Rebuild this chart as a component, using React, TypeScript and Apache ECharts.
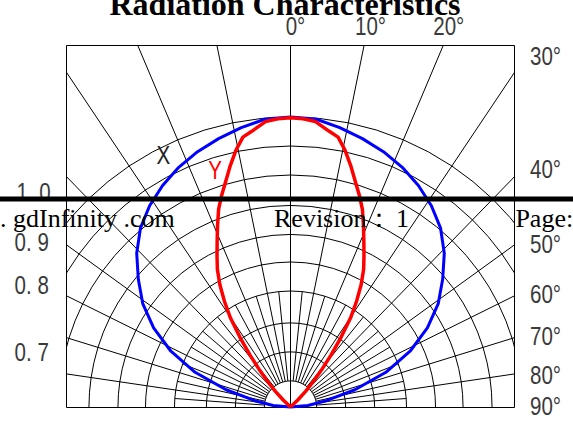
import React, { useEffect, useRef } from 'react';
import * as echarts from 'echarts';

// ---------- data ----------
const titleText = 'Radiation Characteristics';
const angleLabels = ['0°', '10°', '20°', '30°', '40°', '50°', '60°', '70°', '80°', '90°'];
const intensityLabels = ['1. 0', '0. 9', '0. 8', '0. 7'];
const seriesNames = ['X', 'Y'];
const footerTexts = ['. gdInfinity .com', 'Revision：', '1', 'Page:'];

// geometric direction (deg from vertical) of each labelled spoke of the drawing
const majorSpokes = [0, 11.5, 22.9, 33.8, 44.2, 54.1, 63.6, 72.8, 81.6];
const minorSpokes = [5.8, 17.2, 28.4, 39.0, 49.2, 58.9, 68.2, 77.2, 85.8];
// relative radius of each grid ring
const ringRadii = [0.09, 0.19, 0.29, 0.4, 0.5, 0.595, 0.695, 0.8, 0.9, 1.0];

// X curve (blue): angle (deg) and relative intensity
const xAngles = [-90, -85, -80, -75, -70, -65, -60, -55, -50, -45, -40, -35, -30, -25, -20, -15, -10, -5, 0,
  5, 10, 15, 20, 25, 30, 35, 40, 45, 50, 55, 60, 65, 70, 75, 80, 85, 90];
const xValues = [0, 0.06, 0.125, 0.23, 0.35, 0.455, 0.545, 0.622, 0.685, 0.75, 0.805, 0.847, 0.882, 0.912, 0.937, 0.958, 0.978, 0.997, 1.0,
  0.997, 0.978, 0.958, 0.937, 0.912, 0.882, 0.847, 0.805, 0.75, 0.685, 0.622, 0.545, 0.455, 0.35, 0.23, 0.125, 0.06, 0];

// Y curve (red)
const yAngles = [-48, -46, -44, -42, -40, -38, -36, -34, -32, -30, -28, -26, -24, -22, -20, -18, -16, -14, -12, -10, -8, -5, -2.5, 0,
  2.5, 5, 8, 10, 12, 14, 16, 18, 20, 22, 24, 26, 28, 30, 32, 34, 36, 38, 40, 42, 44, 46, 48];
const yValues = [0, 0.035, 0.075, 0.115, 0.165, 0.225, 0.295, 0.37, 0.43, 0.487, 0.537, 0.578, 0.622, 0.672, 0.725, 0.768, 0.81, 0.858, 0.905, 0.945, 0.96, 0.988, 0.995, 0.997,
  0.995, 0.988, 0.96, 0.945, 0.905, 0.858, 0.81, 0.768, 0.725, 0.672, 0.622, 0.578, 0.537, 0.487, 0.43, 0.37, 0.295, 0.225, 0.165, 0.115, 0.075, 0.035, 0];

// ---------- layout ----------
const W = 573;
const H = 424;
const CX = 290.5; // pixel of the diagram origin
const CY = 407;
const S = 290; // pixels per unit of relative intensity
const GL = 66.5;
const GT = 45.5;
const GW = 448;
const GH = 362;

const toXY = (deg: number, r: number): number[] => {
  const a = (deg * Math.PI) / 180;
  return [r * Math.sin(a), r * Math.cos(a)];
};
const BREAK = [NaN, NaN];

function buildSpokes(list: number[], r0: (a: number) => number, r1: number) {
  const out: number[][] = [];
  list.forEach((a) => {
    const sides = a === 0 ? [0] : [-a, a];
    sides.forEach((s) => {
      out.push(toXY(s, r0(a)), toXY(s, r1), BREAK);
    });
  });
  return out;
}

function buildRings() {
  const set = new Set<number>();
  [...majorSpokes, ...minorSpokes, 90].forEach((a) => {
    set.add(a);
    set.add(-a);
  });
  const angles = Array.from(set).sort((p, q) => p - q);
  const out: number[][] = [];
  ringRadii.forEach((r) => {
    angles.forEach((a) => out.push(toXY(a, r)));
    out.push(BREAK);
  });
  return out;
}

const tickFont = '26px "Liberation Sans", Arial, sans-serif';
const serifFont = '"Liberation Serif", "Times New Roman", serif';

const angleLabelPos = [
  [285.7, 26], [355, 26], [433.3, 26], [530, 56], [530, 169.5],
  [530, 244], [530, 294.5], [530, 336], [530, 375.5], [530, 406],
];
const intensityLabelPos = [[16.4, 192.5], [14.6, 242.5], [14.6, 285], [14.6, 352]];
const footerPos = [[0, 218], [274, 218], [396, 218], [515.4, 218]];

export default function App() {
  const ref = useRef<HTMLDivElement>(null);

  useEffect(() => {
    if (!ref.current) return;
    const chart = echarts.init(ref.current, undefined, { renderer: 'svg' });

    const xData = xAngles.map((a, i) => toXY(a, xValues[i]));
    const yData = yAngles.map((a, i) => toXY(a, yValues[i]));

    const gridLine = { color: '#000', width: 1 };
    const base = {
      type: 'line' as const,
      showSymbol: false,
      symbol: 'none',
      clip: true,
      silent: true,
      connectNulls: false,
      smooth: false,
    };

    const tickText = (t: string, x: number, y: number, fill: string) => ({
      type: 'text', x, y, z: 100, scaleX: 0.79,
      style: { text: t, font: tickFont, fill, align: 'left', verticalAlign: 'middle', lineHeight: 19 },
    });

    const graphics: any[] = [];
    angleLabels.forEach((t, i) => graphics.push(tickText(t, angleLabelPos[i][0], angleLabelPos[i][1], '#3a3a3a')));
    intensityLabels.forEach((t, i) => graphics.push(tickText(t, intensityLabelPos[i][0], intensityLabelPos[i][1], '#3a3a3a')));
    graphics.push(tickText(seriesNames[0], 156.4, 155, '#222'));
    graphics.push(tickText(seriesNames[1], 208.3, 170, '#ff0000'));
    graphics.push({
      type: 'text', x: 285, y: 4.2, z: 100,
      style: { text: titleText, font: 'bold 32px ' + serifFont, fill: '#000', align: 'center', verticalAlign: 'middle', lineHeight: 18 },
    });
    graphics.push({
      type: 'rect', z: 101, shape: { x: 0, y: 196.5, width: W, height: 5 }, style: { fill: '#000' },
    });
    footerTexts.forEach((t, i) => {
      graphics.push({
        type: 'text', x: footerPos[i][0], y: footerPos[i][1], z: 102,
        style: { text: t, font: '26px ' + serifFont, fill: '#000', align: 'left', verticalAlign: 'middle', lineHeight: 24 },
      });
    });

    chart.setOption({
      animation: false,
      grid: {
        left: GL, top: GT, width: GW, height: GH,
        show: true, borderColor: '#000', borderWidth: 1, backgroundColor: 'transparent',
      },
      xAxis: { type: 'value', min: (GL - CX) / S, max: (GL + GW - CX) / S, show: false },
      yAxis: { type: 'value', min: (CY - (GT + GH)) / S, max: (CY - GT) / S, show: false },
      series: [
        { ...base, name: 'rings', data: buildRings(), lineStyle: gridLine, z: 1 },
        { ...base, name: 'spokes', data: buildSpokes(majorSpokes, (a) => (a === 0 ? 0 : ringRadii[0]), 1.7), lineStyle: gridLine, z: 1 },
        { ...base, name: 'minor', data: buildSpokes(minorSpokes, () => ringRadii[0], ringRadii[3]), lineStyle: gridLine, z: 1 },
        { ...base, name: seriesNames[0], data: xData, lineStyle: { color: '#0000ff', width: 3 }, z: 3 },
        { ...base, name: seriesNames[1], data: yData, lineStyle: { color: '#ff0000', width: 3.5 }, z: 4 },
      ],
      graphic: graphics,
    });

    return () => chart.dispose();
  }, []);

  return <div ref={ref} style={{ position: 'absolute', left: 0, top: 0, width: W, height: H }} />;
}
